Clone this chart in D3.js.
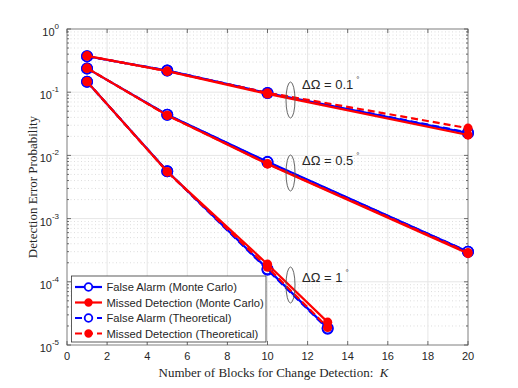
<!DOCTYPE html>
<html>
<head>
<meta charset="utf-8">
<script src="https://cdn.jsdelivr.net/npm/d3@7"></script>
<style>
  body { margin: 0; background: #fff; }
  svg { display: block; }
</style>
</head>
<body>
<div id="chart"></div>
<script>
// K values per angle
let k01 = [1, 5, 10, 20]
let k05 = [1, 5, 10, 20]
let k1 = [1, 5, 10, 13]

// delta omega = 0.1
let faMC01 = [0.37, 0.22, 0.097, 0.0225]
let mdMC01 = [0.375, 0.215, 0.094, 0.021]
let faTh01 = [0.37, 0.22, 0.097, 0.023]
let mdTh01 = [0.375, 0.215, 0.098, 0.027]

// delta omega = 0.5
let faMC05 = [0.238, 0.044, 0.0079, 0.0003]
let mdMC05 = [0.24, 0.043, 0.0073, 0.00028]
let faTh05 = [0.238, 0.044, 0.0078, 0.0003]
let mdTh05 = [0.24, 0.043, 0.0074, 0.00029]

// delta omega = 1
let faMC1 = [0.146, 0.0056, 0.00016, 0.0000185]
let mdMC1 = [0.147, 0.0055, 0.00019, 0.000023]
let faTh1 = [0.146, 0.0056, 0.000155, 0.000018]
let mdTh1 = [0.147, 0.0055, 0.00017, 0.000019]

let xTicks = [0, 2, 4, 6, 8, 10, 12, 14, 16, 18, 20]
let yExps = [0, -1, -2, -3, -4, -5]
let legendLabels = [
  'False Alarm (Monte Carlo)',
  'Missed Detection (Monte Carlo)',
  'False Alarm (Theoretical)',
  'Missed Detection (Theoretical)'
]
let groupLabels = ['0.1', '0.5', '1']

let width = 518
let height = 388
let margin = { top: 29, left: 67, right: 50, bottom: 43 }

let svg = d3.select('#chart')
  .append('svg')
  .attr('width', width)
  .attr('height', height)

let x = d3.scaleLinear().domain([0, 20]).range([margin.left, width - margin.right])
let y = d3.scaleLog().domain([1e-5, 1]).range([height - margin.bottom, margin.top])

let x0 = x.range()[0], x1 = x.range()[1]
let y0 = y.range()[0], y1 = y.range()[1]

// minor horizontal grid (dotted)
let minor = []
for (let e = -5; e < 0; e++) {
  for (let m = 2; m <= 9; m++) minor.push(m * Math.pow(10, e))
}
svg.append('g')
  .selectAll('line')
  .data(minor)
  .enter()
  .append('line')
  .attr('x1', x0).attr('x2', x1)
  .attr('y1', d => y(d)).attr('y2', d => y(d))
  .attr('stroke', '#d4d4d4')
  .attr('stroke-width', 0.8)
  .attr('stroke-dasharray', '1,2.5')

// major grid
svg.append('g')
  .selectAll('line')
  .data(yExps)
  .enter()
  .append('line')
  .attr('x1', x0).attr('x2', x1)
  .attr('y1', d => y(Math.pow(10, d))).attr('y2', d => y(Math.pow(10, d)))
  .attr('stroke', '#e6e6e6')
  .attr('stroke-width', 1)

svg.append('g')
  .selectAll('line')
  .data(xTicks)
  .enter()
  .append('line')
  .attr('x1', d => x(d)).attr('x2', d => x(d))
  .attr('y1', y0).attr('y2', y1)
  .attr('stroke', '#e6e6e6')
  .attr('stroke-width', 1)

// box
svg.append('rect')
  .attr('x', x0).attr('y', y1)
  .attr('width', x1 - x0).attr('height', y0 - y1)
  .attr('fill', 'none')
  .attr('stroke', '#8a8a8a')
  .attr('stroke-width', 1)

// ticks on all sides
let tickG = svg.append('g').attr('stroke', '#4d4d4d').attr('stroke-width', 0.8)
xTicks.forEach(t => {
  tickG.append('line').attr('x1', x(t)).attr('x2', x(t)).attr('y1', y0).attr('y2', y0 - 4)
  tickG.append('line').attr('x1', x(t)).attr('x2', x(t)).attr('y1', y1).attr('y2', y1 + 4)
})
yExps.forEach(e => {
  let yy = y(Math.pow(10, e))
  tickG.append('line').attr('x1', x0).attr('x2', x0 + 4).attr('y1', yy).attr('y2', yy)
  tickG.append('line').attr('x1', x1).attr('x2', x1 - 4).attr('y1', yy).attr('y2', yy)
})
minor.forEach(v => {
  tickG.append('line').attr('x1', x0).attr('x2', x0 + 2).attr('y1', y(v)).attr('y2', y(v))
  tickG.append('line').attr('x1', x1).attr('x2', x1 - 2).attr('y1', y(v)).attr('y2', y(v))
})

// tick labels
svg.append('g')
  .selectAll('text')
  .data(xTicks)
  .enter()
  .append('text')
  .attr('x', d => x(d))
  .attr('y', y0 + 15)
  .attr('text-anchor', 'middle')
  .attr('font-family', 'Liberation Sans, Arial, sans-serif')
  .attr('font-size', 11)
  .attr('fill', '#262626')
  .text(d => d)

let yl = svg.append('g')
  .selectAll('text')
  .data(yExps)
  .enter()
  .append('text')
  .attr('x', x0 - 8)
  .attr('y', d => y(Math.pow(10, d)) + 7)
  .attr('text-anchor', 'end')
  .attr('font-family', 'Liberation Sans, Arial, sans-serif')
  .attr('font-size', 11)
  .attr('fill', '#262626')
yl.append('tspan').text('10')
yl.append('tspan')
  .attr('dy', -7)
  .attr('font-size', 8)
  .text(d => d)

// axis labels
svg.append('text')
  .attr('x', (x0 + x1) / 2 + 6)
  .attr('y', 377)
  .attr('text-anchor', 'middle')
  .attr('font-family', 'Liberation Serif, Times New Roman, serif')
  .attr('font-size', 13)
  .attr('fill', '#262626')
  .html('Number of Blocks for Change Detection:&#160; <tspan font-style="italic">K</tspan>')

svg.append('text')
  .attr('transform', `translate(37,${(y0 + y1) / 2}) rotate(-90)`)
  .attr('text-anchor', 'middle')
  .attr('font-family', 'Liberation Serif, Times New Roman, serif')
  .attr('font-size', 13)
  .attr('fill', '#262626')
  .text('Detection Error Probability')

// series
let blue = '#0000ff'
let red = '#ff0000'

let groups = [
  { k: k01, fa: faMC01, md: mdMC01, faT: faTh01, mdT: mdTh01 },
  { k: k05, fa: faMC05, md: mdMC05, faT: faTh05, mdT: mdTh05 },
  { k: k1, fa: faMC1, md: mdMC1, faT: faTh1, mdT: mdTh1 }
]

let line = d3.line()
  .x(d => x(d[0]))
  .y(d => y(d[1]))

let plot = svg.append('g')

function drawSeries(ks, vals, color, dashed, filled) {
  let pts = ks.map((k, i) => [k, vals[i]])
  plot.append('path')
    .datum(pts)
    .attr('d', line)
    .attr('fill', 'none')
    .attr('stroke', color)
    .attr('stroke-width', 2.2)
    .attr('stroke-dasharray', dashed ? '7,4' : null)
  plot.selectAll(null)
    .data(pts)
    .enter()
    .append('circle')
    .attr('cx', d => x(d[0]))
    .attr('cy', d => y(d[1]))
    .attr('r', filled ? 4.6 : 5.2)
    .attr('fill', filled ? color : 'none')
    .attr('stroke', filled ? 'none' : color)
    .attr('stroke-width', 1.6)
}

groups.forEach(g => {
  drawSeries(g.k, g.fa, blue, false, false)
  drawSeries(g.k, g.faT, blue, true, false)
})
groups.forEach(g => {
  drawSeries(g.k, g.md, red, false, true)
  drawSeries(g.k, g.mdT, red, true, true)
})

// annotations
let annY = [100, 173, 285]
let annTextY = [89, 165, 282]
annY.forEach((cy, i) => {
  svg.append('ellipse')
    .attr('cx', 290.5)
    .attr('cy', cy)
    .attr('rx', 4.5)
    .attr('ry', 18)
    .attr('fill', 'none')
    .attr('stroke', '#555')
    .attr('stroke-width', 0.9)
  let t = svg.append('text')
    .attr('x', 302)
    .attr('y', annTextY[i])
    .attr('font-family', 'Liberation Sans, Arial, sans-serif')
    .attr('font-size', 13)
    .attr('fill', '#262626')
  t.append('tspan').text('\u0394\u03A9 = ' + groupLabels[i])
  t.append('tspan').attr('dy', -7).attr('dx', 3).attr('font-size', 8).text('\u00B0')
})

// legend
let lg = svg.append('g')
lg.append('rect')
  .attr('x', 71.5).attr('y', 276)
  .attr('width', 194.5).attr('height', 66)
  .attr('fill', '#fff')
  .attr('stroke', '#333')
  .attr('stroke-width', 0.8)

let legendStyle = [
  { color: blue, dashed: false, filled: false },
  { color: red, dashed: false, filled: true },
  { color: blue, dashed: true, filled: false },
  { color: red, dashed: true, filled: true }
]
legendLabels.forEach((lab, i) => {
  let cy = 287 + i * 15.5
  let s = legendStyle[i]
  lg.append('line')
    .attr('x1', 75).attr('x2', 102)
    .attr('y1', cy).attr('y2', cy)
    .attr('stroke', s.color)
    .attr('stroke-width', 2.2)
    .attr('stroke-dasharray', s.dashed ? '7,4' : null)
  lg.append('circle')
    .attr('cx', 88.5).attr('cy', cy)
    .attr('r', s.filled ? 3.3 : 3.8)
    .attr('fill', s.filled ? s.color : '#fff')
    .attr('stroke', s.color)
    .attr('stroke-width', 1.8)
  lg.append('text')
    .attr('x', 106.5)
    .attr('y', cy + 4)
    .attr('font-family', 'Liberation Sans, Arial, sans-serif')
    .attr('font-size', 11.2)
    .attr('fill', '#262626')
    .text(lab)
})
</script>
</body>
</html>
